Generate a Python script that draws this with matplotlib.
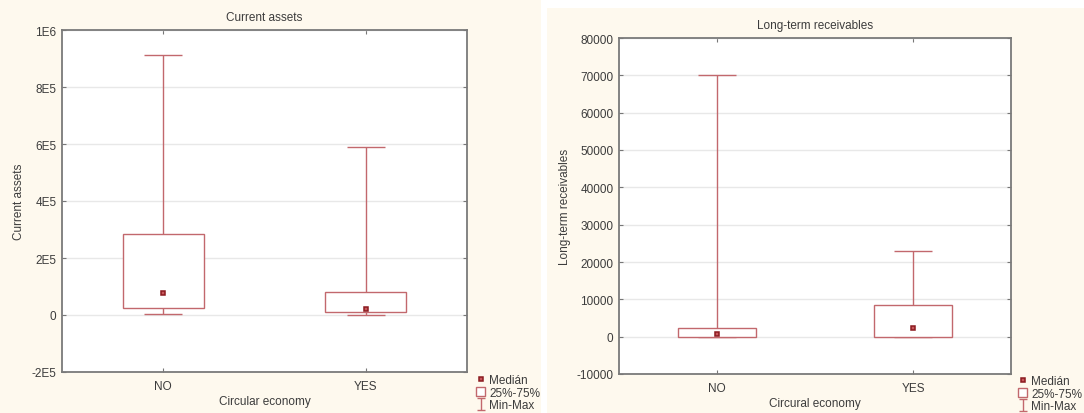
import numpy as np
import matplotlib
matplotlib.use("Agg")
import matplotlib.pyplot as plt
from matplotlib.patches import Rectangle
from matplotlib.ticker import FixedLocator, FixedFormatter

# Values
groups = ["NO", "YES"]

ca_min = [3500, 500]
ca_q1 = [23000, 11700]
ca_med = [77000, 22000]
ca_q3 = [284000, 79500]
ca_max = [914000, 588000]
ca_ticks = [-200000, 0, 200000, 400000, 600000, 800000, 1000000]
ca_ticklabels = ["-2E5", "0", "2E5", "4E5", "6E5", "8E5", "1E6"]

lr_min = [0, 0]
lr_q1 = [0, 0]
lr_med = [800, 2200]
lr_q3 = [2400, 8450]
lr_max = [70000, 23000]
lr_ticks = [-10000, 0, 10000, 20000, 30000, 40000, 50000, 60000, 70000, 80000]
lr_ticklabels = [str(t) for t in lr_ticks]

box_col = "#c2686d"
med_col = "#8b1a1f"
txt_col = "#3c3c3c"
cream = "#fef9ee"
fs = 8.5

plt.rcParams["font.family"] = ["Liberation Sans", "DejaVu Sans"]
plt.rcParams["font.size"] = fs

W, H = 1084, 414
fig = plt.figure(figsize=(W / 100, H / 100), dpi=100, facecolor="white")

# panel backgrounds
fig.patches.append(Rectangle((0, 0), 541 / W, 1.0, transform=fig.transFigure,
                             facecolor=cream, edgecolor="none", zorder=-10))
fig.patches.append(Rectangle((547 / W, 0), 537 / W, 405 / H, transform=fig.transFigure,
                             facecolor=cream, edgecolor="none", zorder=-10))


def box_panel(ax, mins, q1, med, q3, maxs, ticks, ticklabels, title, xlabel, ylabel, ylpad):
    x = np.arange(len(groups))
    ax.set_facecolor("white")
    lower = [m - lo for m, lo in zip(q1, mins)]
    upper = [hi - m for m, hi in zip(q1, maxs)]
    ax.errorbar(x, q1, yerr=[lower, upper], fmt="none", ecolor=box_col,
                elinewidth=1.0, capsize=14, capthick=1.0, zorder=2)
    for i in range(len(groups)):
        ax.add_patch(Rectangle((x[i] - 0.2, q1[i]), 0.4, q3[i] - q1[i], facecolor="white",
                               edgecolor=box_col, linewidth=1.0, zorder=3))
    ln, = ax.plot(x, med, linestyle="none", marker="s", markersize=3.4,
                  markerfacecolor="#c8585c", markeredgecolor=med_col, markeredgewidth=1.1,
                  zorder=4, label="Medián")

    # legend proxies (kept outside the visible range)
    bx = Rectangle((0, 0), 1, 1, facecolor="white", edgecolor=box_col, linewidth=1.0,
                   label="25%-75%")
    eb = ax.errorbar([0], [ticks[0] * 10], yerr=[[1], [1]], fmt="none", ecolor=box_col,
                     elinewidth=1.0, capsize=3, capthick=1.0, label="Min-Max")

    ax.set_xlim(-0.5, 1.5)
    ax.set_ylim(ticks[0], ticks[-1])
    ax.yaxis.set_major_locator(FixedLocator(ticks))
    ax.yaxis.set_major_formatter(FixedFormatter(ticklabels))
    ax.set_xticks(x)
    ax.set_xticklabels(groups)
    ax.grid(axis="y", color="#e8e8e8", linewidth=1.0, zorder=0)
    ax.set_axisbelow(True)
    ax.tick_params(direction="in", length=3, top=True, right=True, color="#777777",
                   labelcolor=txt_col, labelsize=fs, pad=4)
    ax.tick_params(axis="x", pad=6)
    for s in ax.spines.values():
        s.set_color("#7a7a7a")
        s.set_linewidth(1.3)
    ax.set_title(title, color=txt_col, fontsize=fs, pad=7)
    ax.set_xlabel(xlabel, color=txt_col, fontsize=fs, labelpad=2)
    ax.set_ylabel(ylabel, color=txt_col, fontsize=fs, labelpad=ylpad)
    return [ln, bx, eb]


def add_legend(handles, left_px, top_px):
    fig.legend(handles, [h.get_label() for h in handles], loc="upper left",
               bbox_to_anchor=(left_px / W, 1 - top_px / H), frameon=False, fontsize=fs,
               handlelength=0.8, handleheight=0.9, handletextpad=0.3, labelspacing=0.05,
               labelcolor=txt_col, borderpad=0.0, borderaxespad=0.0)


ax1 = fig.add_axes([62 / W, (H - 373) / H, 405 / W, 342 / H])
h1 = box_panel(ax1, ca_min, ca_q1, ca_med, ca_q3, ca_max, ca_ticks, ca_ticklabels,
               "Current assets", "Circular economy", "Current assets", 5)
add_legend(h1, 476, 375)

ax2 = fig.add_axes([619 / W, (H - 375) / H, 392 / W, 336 / H])
h2 = box_panel(ax2, lr_min, lr_q1, lr_med, lr_q3, lr_max, lr_ticks, lr_ticklabels,
               "Long-term receivables", "Circural economy", "Long-term receivables", 4)
add_legend(h2, 1018, 376)

fig.savefig("out.png", dpi=100, facecolor=fig.get_facecolor())
